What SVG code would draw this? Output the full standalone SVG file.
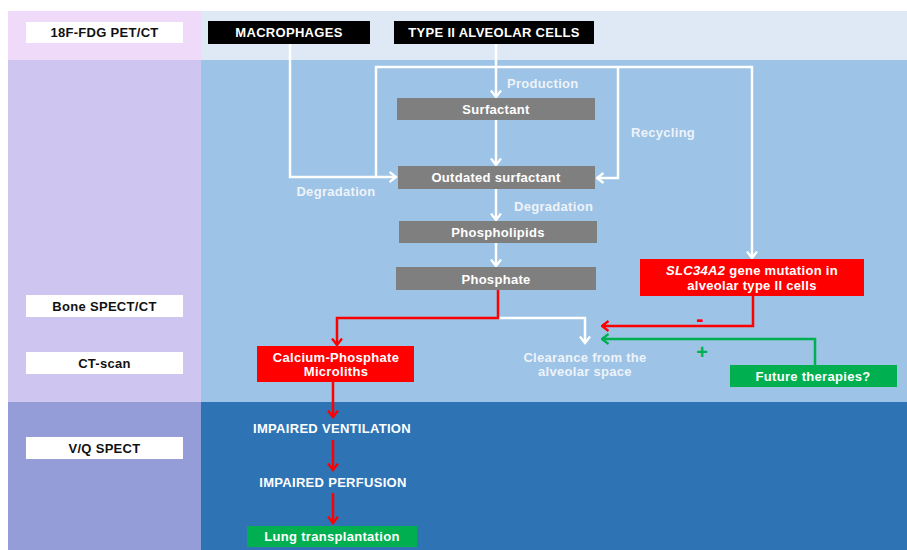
<svg xmlns="http://www.w3.org/2000/svg" width="907" height="550" viewBox="0 0 907 550">
<style>
  text { font-family: "Liberation Sans", Arial, sans-serif; font-weight: bold; font-size: 13px; letter-spacing: 0.3px; }
  .c { text-anchor: middle; }
  .dk { fill: #111111; }
  .wt { fill: #FFFFFF; }
  .lb { fill: #EEF3FA; }
  .sign { font-size: 20px; letter-spacing: 0; }
  .w { fill: none; stroke: #FFFFFF; stroke-width: 2.5; }
  .r { fill: none; stroke: #FF0000; stroke-width: 2.5; }
  .g { fill: none; stroke: #00B050; stroke-width: 2.5; }
</style>
<defs>
  <marker id="aw" viewBox="-1 -1 9 13" refX="6.5" refY="5.5" markerWidth="9" markerHeight="13" markerUnits="userSpaceOnUse" orient="auto">
    <path d="M0,0.5 L6.5,5.5 L0,10.5" fill="none" stroke="#FFFFFF" stroke-width="2.3"/>
  </marker>
  <marker id="ar" viewBox="-1 -1 9 13" refX="6.5" refY="5.5" markerWidth="9" markerHeight="13" markerUnits="userSpaceOnUse" orient="auto">
    <path d="M0,0.5 L6.5,5.5 L0,10.5" fill="none" stroke="#FF0000" stroke-width="2.3"/>
  </marker>
  <marker id="ag" viewBox="-1 -1 9 13" refX="6.5" refY="5.5" markerWidth="9" markerHeight="13" markerUnits="userSpaceOnUse" orient="auto">
    <path d="M0,0.5 L6.5,5.5 L0,10.5" fill="none" stroke="#00B050" stroke-width="2.3"/>
  </marker>
</defs>
<rect width="907" height="550" fill="#FFFFFF"/>
<g id="background">
  <rect x="8" y="11" width="193" height="49" fill="#EFDAF9"/>
  <rect x="201" y="11" width="706" height="49" fill="#DEE9F5"/>
  <rect x="8" y="60" width="193" height="342" fill="#CEC6F0"/>
  <rect x="201" y="60" width="706" height="342" fill="#9DC3E6"/>
  <rect x="8" y="402" width="193" height="148" fill="#959DD9"/>
  <rect x="201" y="402" width="706" height="148" fill="#2E74B5"/>
</g>
<g id="lbl-petct"><rect x="26" y="22" width="157" height="21" fill="#FFFFFF"/><text x="104.5" y="37" class="c dk">18F-FDG PET/CT</text></g>
<g id="lbl-bone"><rect x="26" y="295" width="157" height="22" fill="#FFFFFF"/><text x="104.5" y="311" class="c dk">Bone SPECT/CT</text></g>
<g id="lbl-ct"><rect x="26" y="352" width="157" height="22" fill="#FFFFFF"/><text x="104.5" y="368" class="c dk">CT-scan</text></g>
<g id="lbl-vq"><rect x="26" y="437" width="157" height="22" fill="#FFFFFF"/><text x="104.5" y="453" class="c dk">V/Q SPECT</text></g>
<g id="connectors">
  <path class="w" d="M290,44 V177 H396" marker-end="url(#aw)"/>
  <path class="w" d="M376,177 V67 H752 V258" marker-end="url(#aw)"/>
  <path class="w" d="M618,67 V178 H597" marker-end="url(#aw)"/>
  <path class="w" d="M496,44 V97" marker-end="url(#aw)"/>
  <path class="w" d="M496,120 V165" marker-end="url(#aw)"/>
  <path class="w" d="M496,189 V220" marker-end="url(#aw)"/>
  <path class="w" d="M496,243 V266" marker-end="url(#aw)"/>
  <path class="w" d="M498,318 H585 V343" marker-end="url(#aw)"/>
  <path class="r" d="M498,290 V318 H337 V345" marker-end="url(#ar)"/>
  <path class="r" d="M753,296 V326 H602" marker-end="url(#ar)"/>
  <path class="g" d="M815,365 V339 H602" marker-end="url(#ag)"/>
  <path class="r" d="M333,382 V417" marker-end="url(#ar)"/>
  <path class="r" d="M333,440 V470" marker-end="url(#ar)"/>
  <path class="r" d="M333,493 V523" marker-end="url(#ar)"/>
  <text x="507" y="88" class="lb">Production</text>
  <text x="631" y="137" class="lb">Recycling</text>
  <text x="336" y="196" class="c lb">Degradation</text>
  <text x="514" y="211" class="lb">Degradation</text>
  <text x="700" y="326" class="c sign" fill="#FF0000" style="font-size:22px">-</text>
  <text x="702" y="359" class="c sign" fill="#00B050">+</text>
</g>
<g id="macrophages"><rect x="208" y="21" width="162" height="23" fill="#000000"/><text x="289" y="37" class="c wt">MACROPHAGES</text></g>
<g id="type2"><rect x="394" y="21" width="200" height="23" fill="#000000"/><text x="494" y="37" class="c wt">TYPE II ALVEOLAR CELLS</text></g>
<g id="surfactant"><rect x="397" y="98" width="198" height="22" fill="#7F7F7F"/><text x="496" y="114" class="c wt">Surfactant</text></g>
<g id="outdated"><rect x="398" y="166" width="197" height="23" fill="#7F7F7F"/><text x="496" y="182" class="c wt">Outdated surfactant</text></g>
<g id="phospholipids"><rect x="399" y="221" width="198" height="22" fill="#7F7F7F"/><text x="498" y="237" class="c wt">Phospholipids</text></g>
<g id="phosphate"><rect x="396" y="267" width="200" height="23" fill="#7F7F7F"/><text x="496" y="284" class="c wt">Phosphate</text></g>
<g id="slc"><rect x="640" y="259" width="224" height="37" fill="#FF0000"/><text x="752" y="275" class="c wt"><tspan font-style="italic">SLC34A2</tspan> gene mutation in</text><text x="752" y="290" class="c wt">alveolar type II cells</text></g>
<g id="clearance"><text x="585" y="362" class="c lb">Clearance from the</text><text x="585" y="376" class="c lb">alveolar space</text></g>
<g id="future"><rect x="730" y="365" width="167" height="22" fill="#00B050"/><text x="813" y="381" class="c wt">Future therapies?</text></g>
<g id="microliths"><rect x="257" y="346" width="157" height="36" fill="#FF0000"/><text x="336" y="362" class="c wt">Calcium-Phosphate</text><text x="336" y="376" class="c wt">Microliths</text></g>
<g id="ventilation"><text x="332" y="433" class="c wt">IMPAIRED VENTILATION</text></g>
<g id="perfusion"><text x="333" y="487" class="c wt">IMPAIRED PERFUSION</text></g>
<g id="transplant"><rect x="247" y="526" width="170" height="21" fill="#00B050"/><text x="332" y="541" class="c wt">Lung transplantation</text></g>
</svg>
